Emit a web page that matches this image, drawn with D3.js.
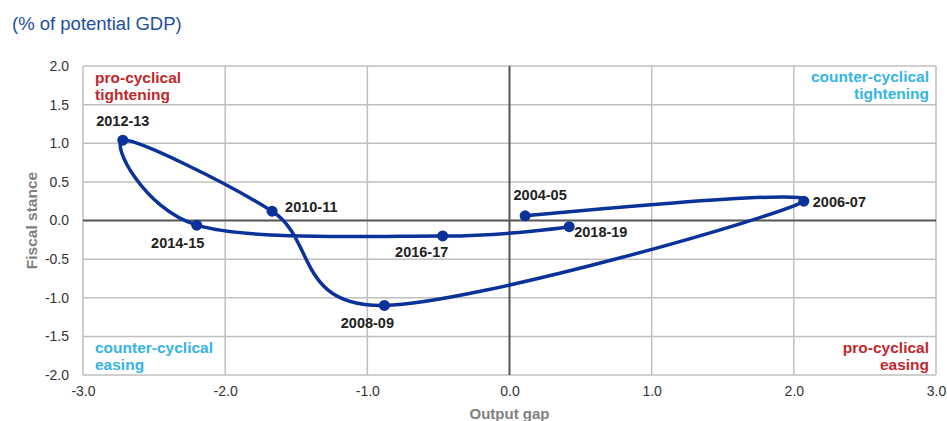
<!DOCTYPE html>
<html>
<head>
<meta charset="utf-8">
<script src="https://cdn.jsdelivr.net/npm/d3@7"></script>
<style>
  html, body { margin: 0; padding: 0; background: #fff; }
  svg { display: block; font-family: "Liberation Sans", Arial, sans-serif; }
</style>
</head>
<body>
<svg id="chart" width="947" height="421"></svg>
<script>
// ---- data ----
const periods = ["2004-05", "2006-07", "2008-09", "2010-11", "2012-13", "2014-15", "2016-17", "2018-19"];
const outputGap = [0.11, 2.07, -0.88, -1.67, -2.72, -2.20, -0.47, 0.42];
const fiscalStance = [0.06, 0.25, -1.10, 0.12, 1.04, -0.06, -0.20, -0.08];
const xTicks = [-3, -2, -1, 0, 1, 2, 3];
const yTicks = [-2, -1.5, -1, -0.5, 0, 0.5, 1, 1.5, 2];

const unitLabel = "(% of potential GDP)";
const xTitle = "Output gap";
const yTitle = "Fiscal stance";

(function () {
// ---- layout ----
const svg = d3.select("#chart");
const pLeft = 83, pRight = 936, pTop = 66, pBottom = 375;
const x = d3.scaleLinear().domain([-3, 3]).range([pLeft, pRight]);
const y = d3.scaleLinear().domain([-2, 2]).range([pBottom, pTop]);
const fmt = d => d.toFixed(1);

const gridColor = "#bfbfbf";
const lineColor = "#0a3299";

// title
svg.append("text").attr("x", 12).attr("y", 30)
  .attr("font-size", 18.5).attr("fill", "#1d4f9e").text(unitLabel);

// grid
const g = svg.append("g");
g.selectAll("line.v").data(xTicks).join("line")
  .attr("x1", d => x(d)).attr("x2", d => x(d))
  .attr("y1", pTop).attr("y2", pBottom)
  .attr("stroke", d => d === 0 ? "#555" : gridColor)
  .attr("stroke-width", d => d === 0 ? 2 : 1.5);
g.selectAll("line.h").data(yTicks).join("line")
  .attr("x1", pLeft).attr("x2", pRight)
  .attr("y1", d => y(d)).attr("y2", d => y(d))
  .attr("stroke", d => d === 0 ? "#555" : gridColor)
  .attr("stroke-width", d => d === 0 ? 2 : 1.5);
g.selectAll("line").filter(d => d === 0).raise();

// axes (tick labels via d3 axes)
const xAxis = svg.append("g").attr("transform", `translate(0,${pBottom})`)
  .call(d3.axisBottom(x).tickValues(xTicks).tickFormat(fmt).tickSize(0).tickPadding(11));
const yAxis = svg.append("g").attr("transform", `translate(${pLeft},0)`)
  .call(d3.axisLeft(y).tickValues(yTicks).tickFormat(fmt).tickSize(0).tickPadding(14));
[xAxis, yAxis].forEach(a => {
  a.select(".domain").remove();
  a.selectAll("text").attr("font-size", 14).attr("fill", "#333")
    .attr("font-family", "Liberation Sans, Arial, sans-serif");
});

// axis titles
svg.append("text").attr("x", x(0)).attr("y", 419).attr("text-anchor", "middle")
  .attr("font-size", 15).attr("font-weight", "bold").attr("fill", "#808080").text(xTitle);
svg.append("text").attr("transform", `translate(37,${y(0)}) rotate(-90)`)
  .attr("text-anchor", "middle")
  .attr("font-size", 15.5).attr("font-weight", "bold").attr("fill", "#808080").text(yTitle);

// quadrant labels
const red = "#c1272d", cyan = "#35b4e6";
const quad = [
  { lines: ["pro-cyclical", "tightening"], color: red, anchor: "start", px: 95, py: 83 },
  { lines: ["counter-cyclical", "tightening"], color: cyan, anchor: "end", px: 929, py: 82 },
  { lines: ["counter-cyclical", "easing"], color: cyan, anchor: "start", px: 95, py: 353 },
  { lines: ["pro-cyclical", "easing"], color: red, anchor: "end", px: 929, py: 353 }
];
quad.forEach(q => {
  const t = svg.append("text").attr("text-anchor", q.anchor)
    .attr("font-size", 15.5).attr("font-weight", "bold").attr("fill", q.color);
  q.lines.forEach((l, i) => t.append("tspan").attr("x", q.px).attr("y", q.py + i * 16.5).text(l));
});

// series
const pts = periods.map((p, i) => ({ p, gx: outputGap[i], fs: fiscalStance[i] }));
const line = d3.line().x(d => x(d.gx)).y(d => y(d.fs)).curve(d3.curveCardinal.tension(0));
svg.append("path").datum(pts).attr("d", line)
  .attr("fill", "none").attr("stroke", lineColor).attr("stroke-width", 3.5)
  .attr("stroke-linejoin", "round");
svg.selectAll("circle.pt").data(pts).join("circle")
  .attr("cx", d => x(d.gx)).attr("cy", d => y(d.fs)).attr("r", 5.5)
  .attr("fill", lineColor);

// point labels placement
const labelPlacement = {
  "2004-05": ["middle", 15, -16],
  "2006-07": ["start", 9, 6],
  "2008-09": ["middle", -17, 23],
  "2010-11": ["start", 13, 1],
  "2012-13": ["middle", 0, -14],
  "2014-15": ["middle", -19, 23],
  "2016-17": ["middle", -21, 21],
  "2018-19": ["start", 5, 10]
};
svg.selectAll("text.pl").data(pts).join("text")
  .attr("x", d => x(d.gx) + labelPlacement[d.p][1])
  .attr("y", d => y(d.fs) + labelPlacement[d.p][2])
  .attr("text-anchor", d => labelPlacement[d.p][0])
  .attr("font-size", 14.5).attr("font-weight", "bold").attr("fill", "#222")
  .text(d => d.p);
})();
</script>
</body>
</html>
